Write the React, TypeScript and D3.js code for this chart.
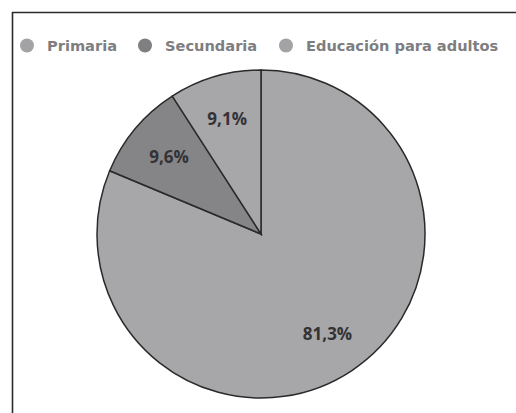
import React from "react";
import * as d3 from "d3";

const categories = ["Primaria", "Secundaria", "Educación para adultos"];
const values = [81.3, 9.6, 9.1];
const valueLabels = ["81,3%", "9,6%", "9,1%"];
const sliceColors = ["#a7a7aa", "#858588", "#a7a7aa"];
const legendColors = ["#a3a3a5", "#7f7f82", "#a3a3a5"];

const W = 516;
const H = 413;
const cx = 261;
const cy = 234;
const R = 164;
const labelR = 120;

export default function App() {
  const pie = d3.pie<number>().sort(null).value((d) => d);
  const arcs = pie(values);
  const arc = d3.arc<d3.PieArcDatum<number>>().innerRadius(0).outerRadius(R);
  const labelArc = d3.arc<d3.PieArcDatum<number>>().innerRadius(labelR).outerRadius(labelR);

  const legendX = [27, 145, 286];

  return (
    <svg width={W} height={H} style={{ position: "absolute", left: 0, top: 0, background: "#fff" }}>
      <line x1={12} y1={12.5} x2={W} y2={12.5} stroke="#2a2a2a" strokeWidth={1.6} />
      <line x1={12.5} y1={12} x2={12.5} y2={H} stroke="#2a2a2a" strokeWidth={1.6} />
      {categories.map((c, i) => (
        <g key={c}>
          <circle cx={legendX[i]} cy={45.5} r={7} fill={legendColors[i]} />
          <text
            x={legendX[i] + 20}
            y={51}
            fontFamily="DejaVu Sans"
            fontWeight="bold"
            fontSize={14.6}
            fill="#7e7e80"
          >
            {c}
          </text>
        </g>
      ))}
      <g transform={`translate(${cx},${cy})`}>
        {arcs.map((a, i) => (
          <path key={i} d={arc(a) || ""} fill={sliceColors[i]} stroke="#2a2a2a" strokeWidth={1.5} />
        ))}
        {arcs.map((a, i) => {
          const [x, y] = labelArc.centroid(a);
          return (
            <text
              key={"l" + i}
              x={x}
              y={y}
              textAnchor="middle"
              dominantBaseline="central"
              fontFamily="Open Sans"
              fontWeight="bold"
              fontSize={17}
              fill="#333336"
            >
              {valueLabels[i]}
            </text>
          );
        })}
      </g>
    </svg>
  );
}
